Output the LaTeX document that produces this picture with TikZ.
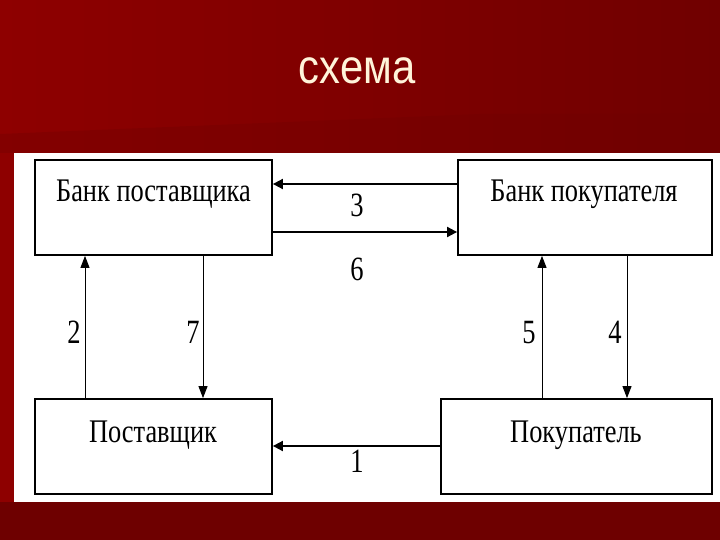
\documentclass[tikz,border=0pt]{standalone}
\usepackage{fontspec}
\usepackage{graphicx}
\setmainfont{Liberation Serif}
\newfontfamily\titlefont{Liberation Sans}
\usetikzlibrary{arrows.meta}
\definecolor{redL}{RGB}{142,0,0}
\definecolor{redR}{RGB}{112,0,0}
\definecolor{redB}{RGB}{110,0,0}
\definecolor{cream}{RGB}{255,244,218}
\begin{document}
\begin{tikzpicture}[x=1pt,y=-1pt,
  box/.style={draw=black, line width=1.8pt, fill=white, inner sep=0pt},
  boxtext/.style={font=\fontsize{33}{35}\selectfont, inner sep=0pt, anchor=base},
  num/.style={font=\fontsize{34}{36}\selectfont, inner sep=0pt, anchor=base},
  arr/.style={-{Triangle[length=10pt,width=10pt]}, line width=1.8pt},
  varr/.style={-{Triangle[length=12pt,width=9pt]}, line width=1pt}]
\useasboundingbox (0,0) rectangle (720,540);
% background
\shade[left color=redL, right color=redR] (0,0) rectangle (720,540);
\fill[redR, opacity=0.35] (0,134) -- (480,114) -- (720,114) -- (720,153) -- (0,153) -- cycle;
\fill[redB] (0,502) rectangle (720,540);
\fill[white] (14,153) rectangle (720,502);
% title
\node[font=\titlefont\fontsize{48}{50}\selectfont, text=cream, inner sep=0pt, anchor=base] (title) at (357,84) {\scalebox{0.87}[1]{схема}};
% boxes
\node[box, minimum width=237pt, minimum height=95pt] (bp) at (153.5,207.5) {};
\node[box, minimum width=254pt, minimum height=95pt] (bk) at (585,207.5) {};
\node[box, minimum width=237pt, minimum height=95pt] (p) at (153.5,446.5) {};
\node[box, minimum width=271pt, minimum height=95pt] (pk) at (576.5,446.5) {};
% box texts
\node[boxtext] (tbp) at (153.5,202) {\scalebox{0.8}[1]{Банк поставщика}};
\node[boxtext] (tbk) at (584,202) {\scalebox{0.8}[1]{Банк покупателя}};
\node[boxtext] (tp) at (153,442) {\scalebox{0.8}[1]{Поставщик}};
\node[boxtext] (tpk) at (576,442) {\scalebox{0.8}[1]{Покупатель}};
% helper coordinates
\coordinate (y3) at (0,184);
\coordinate (y6) at (0,232);
\coordinate (y1) at (0,446);
\coordinate (x2) at (85,0);
\coordinate (x7) at (203,0);
\coordinate (x5) at (542,0);
\coordinate (x4) at (627,0);
% connectors
\draw[arr] (bk.west |- y3) -- (bp.east |- y3);
\draw[arr] (bp.east |- y6) -- (bk.west |- y6);
\draw[arr] (pk.west |- y1) -- (p.east |- y1);
\draw[varr] (p.north -| x2) -- (bp.south -| x2);
\draw[varr] (bp.south -| x7) -- (p.north -| x7);
\draw[varr] (pk.north -| x5) -- (bk.south -| x5);
\draw[varr] (bk.south -| x4) -- (pk.north -| x4);
% labels
\node[num] (n3) at (357,217) {\scalebox{0.78}[1]{3}};
\node[num] (n6) at (357,280) {\scalebox{0.78}[1]{6}};
\node[num] (n2) at (74,343) {\scalebox{0.78}[1]{2}};
\node[num] (n7) at (193,343) {\scalebox{0.78}[1]{7}};
\node[num] (n5) at (529,343) {\scalebox{0.78}[1]{5}};
\node[num] (n4) at (615,343) {\scalebox{0.78}[1]{4}};
\node[num] (n1) at (357,472) {\scalebox{0.78}[1]{1}};
\end{tikzpicture}
\end{document}
